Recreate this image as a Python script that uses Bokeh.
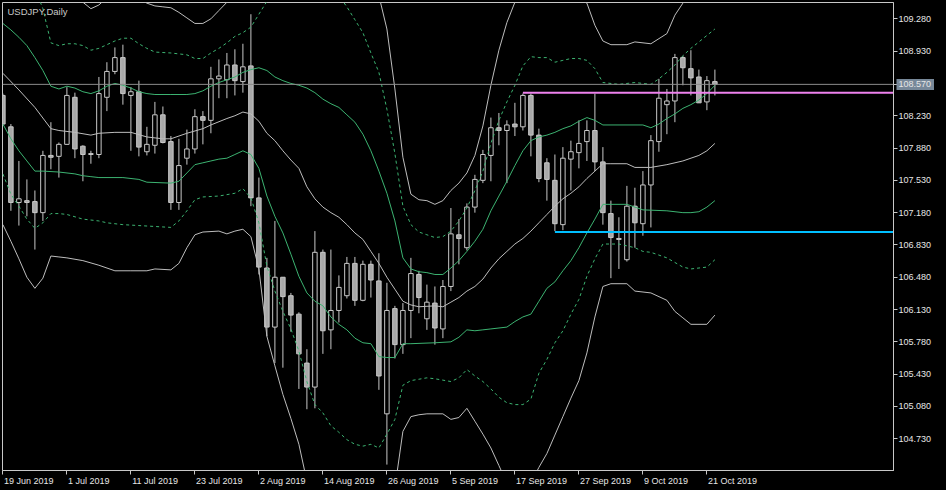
import numpy as np
from bokeh.plotting import figure
from bokeh.models import (Range1d, FixedTicker, Span, Label, ColumnDataSource,
                          PrintfTickFormatter)
from bokeh.embed import file_html
from bokeh.resources import INLINE

# ---------------- data ----------------
symbol_title = "USDJPY,Daily"
date_labels = ["19 Jun 2019", "1 Jul 2019", "11 Jul 2019", "23 Jul 2019", "2 Aug 2019",
               "14 Aug 2019", "26 Aug 2019", "5 Sep 2019", "17 Sep 2019", "27 Sep 2019",
               "9 Oct 2019", "21 Oct 2019"]
date_label_bars = [0, 8, 16, 24, 32, 40, 48, 56, 64, 72, 80, 88]
price_ticks = [104.73, 105.08, 105.43, 105.78, 106.13, 106.48, 106.83, 107.18,
               107.53, 107.88, 108.23, 108.93, 109.28]
last_price = 108.570
level_high_bar, level_high = 65, 108.48
level_low_bar, level_low = 69, 106.97

opens = [108.45, 108.11, 107.29, 107.31, 107.30, 107.18, 107.80, 107.79, 107.92, 108.43,
         107.90, 107.81, 107.81, 108.43, 108.71, 108.86, 108.45, 108.49, 107.84, 107.91,
         108.24, 107.95, 107.29, 107.77, 107.87, 108.22, 108.18, 108.63, 108.62, 108.78,
         108.60, 108.77, 107.34, 106.58, 105.94, 106.48, 106.28, 106.08, 105.55, 105.29,
         106.75, 105.91, 106.12, 106.28, 106.63, 106.23, 106.62, 106.44, 105.00, 106.14,
         105.75, 106.12, 106.51, 106.03, 106.20, 105.92, 106.38, 106.94, 106.80, 107.24,
         107.53, 107.80, 108.10, 108.07, 108.14, 108.11, 108.45, 108.02, 107.72, 107.53,
         107.05, 107.76, 107.83, 107.95, 108.07, 107.73, 107.17, 106.90, 106.67, 107.25,
         107.06, 107.48, 107.95, 108.35, 108.39, 108.86, 108.74, 108.65, 108.38, 108.60]
highs = [108.47, 108.14, 107.74, 107.54, 107.42, 107.85, 108.16, 107.94, 108.54, 108.48,
         107.91, 107.85, 108.65, 108.81, 108.97, 109.00, 108.54, 108.61, 108.11, 108.38,
         108.33, 108.01, 107.98, 108.08, 108.30, 108.28, 108.76, 108.84, 108.91, 108.95,
         109.01, 109.33, 107.56, 106.69, 107.09, 106.48, 106.31, 106.10, 105.70, 106.98,
         106.78, 106.78, 106.50, 106.70, 106.70, 106.66, 106.66, 106.74, 106.42, 106.17,
         106.20, 106.69, 106.55, 106.40, 106.38, 106.45, 107.23, 107.11, 107.28, 107.59,
         107.86, 108.21, 108.26, 108.18, 108.37, 108.47, 108.47, 108.09, 107.77, 107.81,
         107.89, 107.96, 108.18, 108.18, 108.47, 107.89, 107.31, 107.13, 107.47, 107.45,
         107.63, 108.02, 108.63, 108.52, 108.90, 108.88, 108.94, 108.73, 108.66, 108.73]
lows = [108.12, 107.20, 107.04, 107.14, 106.78, 107.09, 107.65, 107.56, 107.92, 107.77,
        107.52, 107.71, 107.77, 108.28, 108.68, 108.35, 107.85, 107.79, 107.80, 107.82,
        107.93, 107.21, 107.21, 107.70, 107.82, 107.92, 108.04, 108.42, 108.42, 108.45,
        108.48, 107.25, 106.51, 105.84, 105.55, 105.50, 105.89, 105.27, 105.05, 105.06,
        105.65, 105.70, 105.99, 106.25, 106.17, 106.22, 106.26, 105.26, 104.45, 105.60,
        105.65, 105.82, 106.09, 105.91, 105.75, 105.82, 106.33, 106.62, 106.77, 107.18,
        107.50, 107.52, 107.91, 107.50, 108.01, 108.07, 107.79, 107.51, 107.31, 106.98,
        106.99, 107.42, 107.66, 107.74, 107.63, 107.05, 106.47, 106.57, 106.65, 106.80,
        106.93, 107.02, 107.84, 108.03, 108.16, 108.56, 108.45, 108.37, 108.29, 108.45]
closes = [108.14, 107.29, 107.33, 107.29, 107.18, 107.80, 107.78, 107.92, 108.45, 107.87,
          107.81, 107.82, 108.47, 108.71, 108.86, 108.47, 108.49, 107.89, 107.92, 108.24,
          107.94, 107.29, 107.69, 107.87, 108.22, 108.18, 108.63, 108.66, 108.78, 108.61,
          108.76, 107.34, 106.59, 105.94, 106.48, 106.27, 106.07, 105.65, 105.29, 106.75,
          105.90, 106.12, 106.37, 106.63, 106.23, 106.62, 106.45, 105.41, 106.12, 105.75,
          106.12, 106.52, 106.26, 106.21, 105.93, 106.38, 106.95, 106.90, 107.24, 107.54,
          107.81, 108.10, 108.07, 108.13, 108.11, 108.45, 108.02, 107.55, 107.54, 107.06,
          107.77, 107.84, 107.93, 108.07, 107.73, 107.18, 106.91, 106.89, 107.25, 107.07,
          107.48, 107.96, 108.42, 108.39, 108.86, 108.75, 108.64, 108.37, 108.61, 108.57]

# band lines: (bar, price)
band_mid = [(0,108.69),(2,108.51),(4,108.32),(6,108.09),(7,108.07),(9,108.05),(11,108.02),(12,108.04),
            (14,108.05),(16,108.05),(18,108.00),(20,107.98),(21,107.98),(23,108.04),(25,108.09),(26,108.13),
            (28,108.20),(29,108.23),(30,108.27),(31,108.25),(32,108.17),(33,108.04),(34,107.96),(35,107.85),
            (36,107.75),(37,107.66),(38,107.46),(39,107.33),(40,107.24),(41,107.18),(42,107.13),(43,107.05),
            (44,106.96),(45,106.89),(46,106.76),(47,106.63),(48,106.48),(49,106.35),(50,106.22),(51,106.18),
            (52,106.16),(54,106.17),(55,106.16),(56,106.21),(57,106.26),(58,106.33),(59,106.38),(60,106.46),
            (61,106.58),(62,106.68),(63,106.76),(64,106.84),(65,106.90),(66,106.98),(67,107.07),(68,107.16),
            (69,107.25),(70,107.33),(71,107.39),(72,107.46),(73,107.55),(74,107.63),(75,107.71),(76,107.71),
            (78,107.71),(79,107.67),(81,107.67),(83,107.70),(85,107.74),(87,107.80),(88,107.85),(89,107.93)]
band_up1 = [(0,109.23),(1,109.16),(2,109.08),(3,108.99),(4,108.86),(5,108.72),(6,108.55),(7,108.52),
            (8,108.55),(9,108.53),(10,108.49),(11,108.47),(12,108.50),(13,108.55),(14,108.58),(15,108.56),
            (16,108.53),(17,108.49),(18,108.47),(19,108.46),(21,108.46),(23,108.46),(24,108.47),(25,108.50),
            (26,108.55),(27,108.59),(28,108.62),(29,108.65),(30,108.70),(31,108.73),(32,108.75),(33,108.72),
            (34,108.65),(35,108.61),(36,108.58),(37,108.56),(38,108.53),(39,108.48),(40,108.41),(41,108.36),
            (42,108.32),(43,108.24),(44,108.16),(45,108.03),(46,107.85),(47,107.63),(48,107.39),(49,107.09),
            (50,106.69),(51,106.57),(52,106.54),(53,106.53),(54,106.51),(55,106.51),(56,106.58),(57,106.66),
            (58,106.76),(59,106.87),(60,107.00),(61,107.20),(62,107.36),(63,107.52),(64,107.69),(65,107.85),
            (66,107.96),(67,108.00),(68,108.02),(69,108.05),(70,108.09),(71,108.12),(72,108.17),(73,108.21),
            (74,108.18),(75,108.13),(80,108.13),(81,108.10),(82,108.14),(83,108.20),(84,108.25),(85,108.31),
            (86,108.35),(87,108.40),(88,108.47),(89,108.56)]
band_dn1 = [(0,108.14),(1,107.98),(2,107.85),(3,107.74),(4,107.63),(5,107.63),(7,107.62),(9,107.60),
            (10,107.58),(11,107.57),(12,107.56),(15,107.56),(17,107.54),(18,107.51),(21,107.50),(22,107.52),
            (23,107.61),(24,107.70),(25,107.72),(26,107.74),(27,107.76),(28,107.77),(29,107.81),(30,107.85),
            (31,107.81),(32,107.66),(33,107.36),(34,107.14),(35,106.96),(36,106.73),(37,106.49),(38,106.31),
            (39,106.22),(40,106.17),(41,106.05),(42,105.97),(43,105.91),(44,105.82),(45,105.77),(46,105.76),
            (47,105.62),(48,105.61),(49,105.61),(50,105.76),(51,105.76),(54,105.77),(56,105.78),(57,105.83),
            (58,105.91),(59,105.90),(60,105.91),(61,105.92),(63,105.94),(64,106.00),(65,106.05),(66,106.08),
            (67,106.22),(68,106.36),(69,106.43),(70,106.55),(71,106.66),(72,106.80),(73,106.96),(74,107.11),
            (75,107.27),(78,107.27),(80,107.21),(83,107.20),(85,107.18),(86,107.18),(87,107.19),(88,107.24),
            (89,107.31)]
band_up2 = [(0,109.78),(1,109.80),(2,109.79),(3,109.72),(4,109.61),(5,109.39),(6,109.02),(7,108.99),
            (8,109.01),(9,109.01),(10,108.99),(11,108.94),(12,108.96),(13,109.00),(14,109.04),(15,109.07),
            (16,109.07),(17,109.01),(18,108.96),(19,108.92),(21,108.91),(23,108.89),(24,108.85),(25,108.85),
            (26,108.91),(27,108.96),(28,109.02),(29,109.09),(30,109.13),(31,109.19),(32,109.33),(33,109.47),
            (34,109.59),(35,109.59),(36,109.58),(37,109.64),(38,109.57),(39,109.56),(40,109.50),(41,109.52),
            (42,109.53),(43,109.41),(44,109.27),(45,109.13),(46,108.91),(47,108.70),(48,108.30),(49,107.82),
            (50,107.25),(51,107.05),(52,106.97),(53,106.94),(54,106.91),(55,106.92),(56,106.98),(57,107.09),
            (58,107.23),(59,107.42),(60,107.63),(61,107.93),(62,108.18),(63,108.38),(64,108.56),(65,108.77),
            (66,108.87),(67,108.86),(68,108.86),(69,108.81),(70,108.83),(71,108.85),(72,108.85),(73,108.83),
            (74,108.74),(75,108.59),(77,108.57),(79,108.59),(81,108.57),(82,108.63),(83,108.70),(84,108.78),
            (85,108.88),(86,108.96),(87,109.03),(88,109.10),(89,109.17)]
band_dn2 = [(0,107.60),(1,107.38),(2,107.25),(3,107.11),(4,107.01),(5,107.07),(6,107.17),(7,107.17),
            (8,107.16),(10,107.11),(12,107.09),(13,107.07),(15,107.05),(17,107.04),(21,107.02),(22,107.09),
            (23,107.20),(24,107.32),(25,107.35),(27,107.36),(29,107.39),(30,107.44),(31,107.34),(32,107.07),
            (33,106.60),(34,106.33),(35,106.11),(36,105.92),(37,105.68),(38,105.35),(39,105.10),(40,105.01),
            (41,104.87),(42,104.80),(43,104.72),(44,104.67),(45,104.65),(46,104.67),(47,104.63),(48,104.78),
            (49,104.94),(50,105.31),(51,105.36),(53,105.39),(54,105.38),(56,105.35),(57,105.39),(58,105.48),
            (59,105.41),(60,105.35),(61,105.27),(62,105.18),(63,105.12),(64,105.10),(65,105.10),(66,105.16),
            (67,105.44),(68,105.59),(69,105.77),(70,105.90),(71,106.08),(72,106.24),(73,106.49),(74,106.68),
            (75,106.84),(77,106.84),(79,106.80),(80,106.76),(81,106.75),(83,106.69),(84,106.64),(85,106.59),
            (86,106.57),(88,106.59),(89,106.67)]
band_up3 = [(0,110.33),(2,110.36),(4,110.26),(6,109.55),(8,109.52),(9,109.50),(10,109.46),(11,109.39),
            (12,109.43),(13,109.51),(14,109.55),(16,109.55),(17,109.50),(18,109.45),(19,109.42),(20,109.41),
            (21,109.40),(22,109.35),(23,109.29),(24,109.23),(25,109.23),(26,109.28),(27,109.37),(28,109.46),
            (29,109.52),(30,109.54),(31,109.58),(32,109.77),(33,110.24),(34,110.40),(35,110.49),(36,110.55),
            (37,110.65),(39,110.66),(41,110.56),(43,110.50),(45,110.28),(46,109.90),(47,109.53),(48,109.17),
            (49,108.52),(50,107.78),(51,107.38),(52,107.32),(53,107.31),(54,107.27),(55,107.31),(56,107.42),
            (57,107.50),(58,107.61),(59,107.80),(60,108.12),(61,108.56),(62,108.94),(63,109.24),(64,109.46),
            (65,109.80),(66,109.90),(67,109.72),(68,109.75),(69,109.73),(70,109.69),(71,109.61),(72,109.51),
            (73,109.45),(74,109.21),(75,109.04),(76,109.00),(78,109.00),(79,109.03),(81,109.01),(83,109.12),
            (84,109.32),(85,109.45),(86,109.57),(87,109.63),(88,109.73),(89,109.79)]
band_dn3 = [(0,107.05),(1,106.87),(2,106.68),(3,106.48),(4,106.36),(5,106.47),(6,106.71),(7,106.70),
            (8,106.69),(10,106.66),(12,106.61),(14,106.55),(16,106.55),(18,106.55),(19,106.57),(21,106.56),
            (22,106.63),(23,106.80),(24,106.94),(25,106.97),(27,106.98),(28,106.95),(29,106.98),(30,107.00),
            (31,106.92),(32,106.57),(33,105.84),(34,105.52),(35,105.21),(36,104.95),(37,104.67),(38,104.27),
            (39,104.00),(40,103.85),(41,103.80),(42,103.70),(43,103.60),(44,103.55),(45,103.50),(46,103.55),
            (47,103.60),(48,103.90),(49,104.20),(50,104.81),(51,104.97),(52,104.99),(53,105.00),(55,105.00),
            (56,104.94),(57,104.96),(58,105.06),(59,104.92),(60,104.78),(61,104.63),(62,104.44),(63,104.25),
            (64,104.15),(65,104.10),(66,104.25),(67,104.42),(68,104.57),(69,104.77),(70,104.97),(71,105.17),
            (72,105.36),(73,105.66),(74,106.05),(75,106.38),(76,106.41),(78,106.41),(79,106.33),(81,106.31),
            (83,106.23),(84,106.11),(85,106.04),(86,105.97),(88,105.97),(89,106.07)]

# ---------------- layout ----------------
W, H = 934, 488
X0 = -0.05
PX_PER_BAR = 8
FRAME_W = 891
X1 = X0 + FRAME_W / PX_PER_BAR
Y0, Y1 = 104.386, 109.457
FONT = "Liberation Sans"
FS = 9
GRAY = "#c8c8c8"
GREEN = "#3cb371"
TAG_BG = "#778899"
TAG_W = 41

p = figure(width=W, height=H, output_backend="svg", toolbar_location=None,
           x_range=Range1d(X0, X1), y_range=Range1d(Y0, Y1),
           y_axis_location="right",
           min_border_left=2, min_border_top=2, min_border_right=0, min_border_bottom=0,
           background_fill_color="black", border_fill_color="black")
p.grid.visible = False
p.outline_line_color = GRAY
p.outline_line_width = 1

# candles
o = np.array(opens); h = np.array(highs); l = np.array(lows); c = np.array(closes)
bars = np.arange(len(o))
bull = c >= o
src = ColumnDataSource(dict(x=bars, top=np.maximum(o, c), bottom=np.minimum(o, c),
                            high=h, low=l, fill=np.where(bull, "black", "#a8a8a8").tolist()))
p.segment(x0="x", y0="high", x1="x", y1="low", source=src, line_color=GRAY, line_width=1)
p.vbar(x="x", top="top", bottom="bottom", width=0.56, fill_color="fill",
       line_color=GRAY, line_width=1, source=src)

# bands
def draw(pairs, color, dash="solid"):
    xs = [a for a, _ in pairs]
    ys = [b for _, b in pairs]
    p.line(xs, ys, line_color=color, line_width=1, line_dash=dash)

draw(band_up3, "#bdbdbd")
draw(band_dn3, "#bdbdbd")
draw(band_up2, GREEN, "3 3")
draw(band_dn2, GREEN, "3 3")
draw(band_up1, GREEN)
draw(band_dn1, GREEN)
draw(band_mid, "#bdbdbd")

# price lines
p.add_layout(Span(location=last_price, dimension="width", line_color="#8c8c8c", line_width=1))
p.ray(x=[level_high_bar], y=[level_high], length=0, angle=0, line_color="#ee82ee", line_width=2)
p.ray(x=[level_low_bar], y=[level_low], length=0, angle=0, line_color="#00bfff", line_width=2)

# axes
AW = {' ': 0.278, 'J': 0.5, 'u': 0.556, 'n': 0.556, 'l': 0.222, 'A': 0.667, 'g': 0.556,
      'S': 0.667, 'e': 0.556, 'p': 0.556, 'O': 0.778, 'c': 0.5, 't': 0.278}
def text_w(s):
    return sum(AW.get(ch, 0.556) for ch in s) * FS

label_pos = [round(b + (text_w(t) / 2 + 1) / PX_PER_BAR, 3) for b, t in zip(date_label_bars, date_labels)]

def style_axis(ax):
    ax.axis_line_color = GRAY
    ax.major_label_text_color = "#e6e6e6"
    ax.major_label_text_font = FONT
    ax.major_label_text_font_size = f"{FS}px"
    ax.axis_label = None

xa = p.xaxis[0]
style_axis(xa)
xa.ticker = FixedTicker(ticks=label_pos, minor_ticks=date_label_bars)
xa.major_label_overrides = {pos: t for pos, t in zip(label_pos, date_labels)}
xa.major_tick_out = 0
xa.major_tick_in = 0
xa.minor_tick_out = 4
xa.minor_tick_in = 0
xa.minor_tick_line_color = GRAY
xa.major_label_standoff = 1

# price axis; the current price tag is one minor tick drawn as a thick bar,
# the labels are pulled back next to the axis line with a negative standoff
ya = p.yaxis[0]
style_axis(ya)
ya.ticker = FixedTicker(ticks=price_ticks + [last_price], minor_ticks=[last_price])
ya.formatter = PrintfTickFormatter(format="%.3f")
ya.major_tick_out = 4
ya.major_tick_in = 0
ya.major_tick_line_color = GRAY
ya.minor_tick_out = TAG_W
ya.minor_tick_in = -3
ya.minor_tick_line_width = 11
ya.minor_tick_line_cap = "butt"
ya.minor_tick_line_color = TAG_BG
ya.major_label_standoff = 5 - TAG_W

# title inside chart
p.add_layout(Label(x=X0, y=Y1, x_offset=5, y_offset=-3, text=symbol_title,
                   text_baseline="top", text_align="left", text_color=GRAY,
                   text_font=FONT, text_font_size="9.5px"))

html = file_html(p, INLINE, title="USDJPY,Daily")
html = html.replace("<head>", "<head><style>html,body{background:#000;}</style>", 1)
open("out.html", "w").write(html)
